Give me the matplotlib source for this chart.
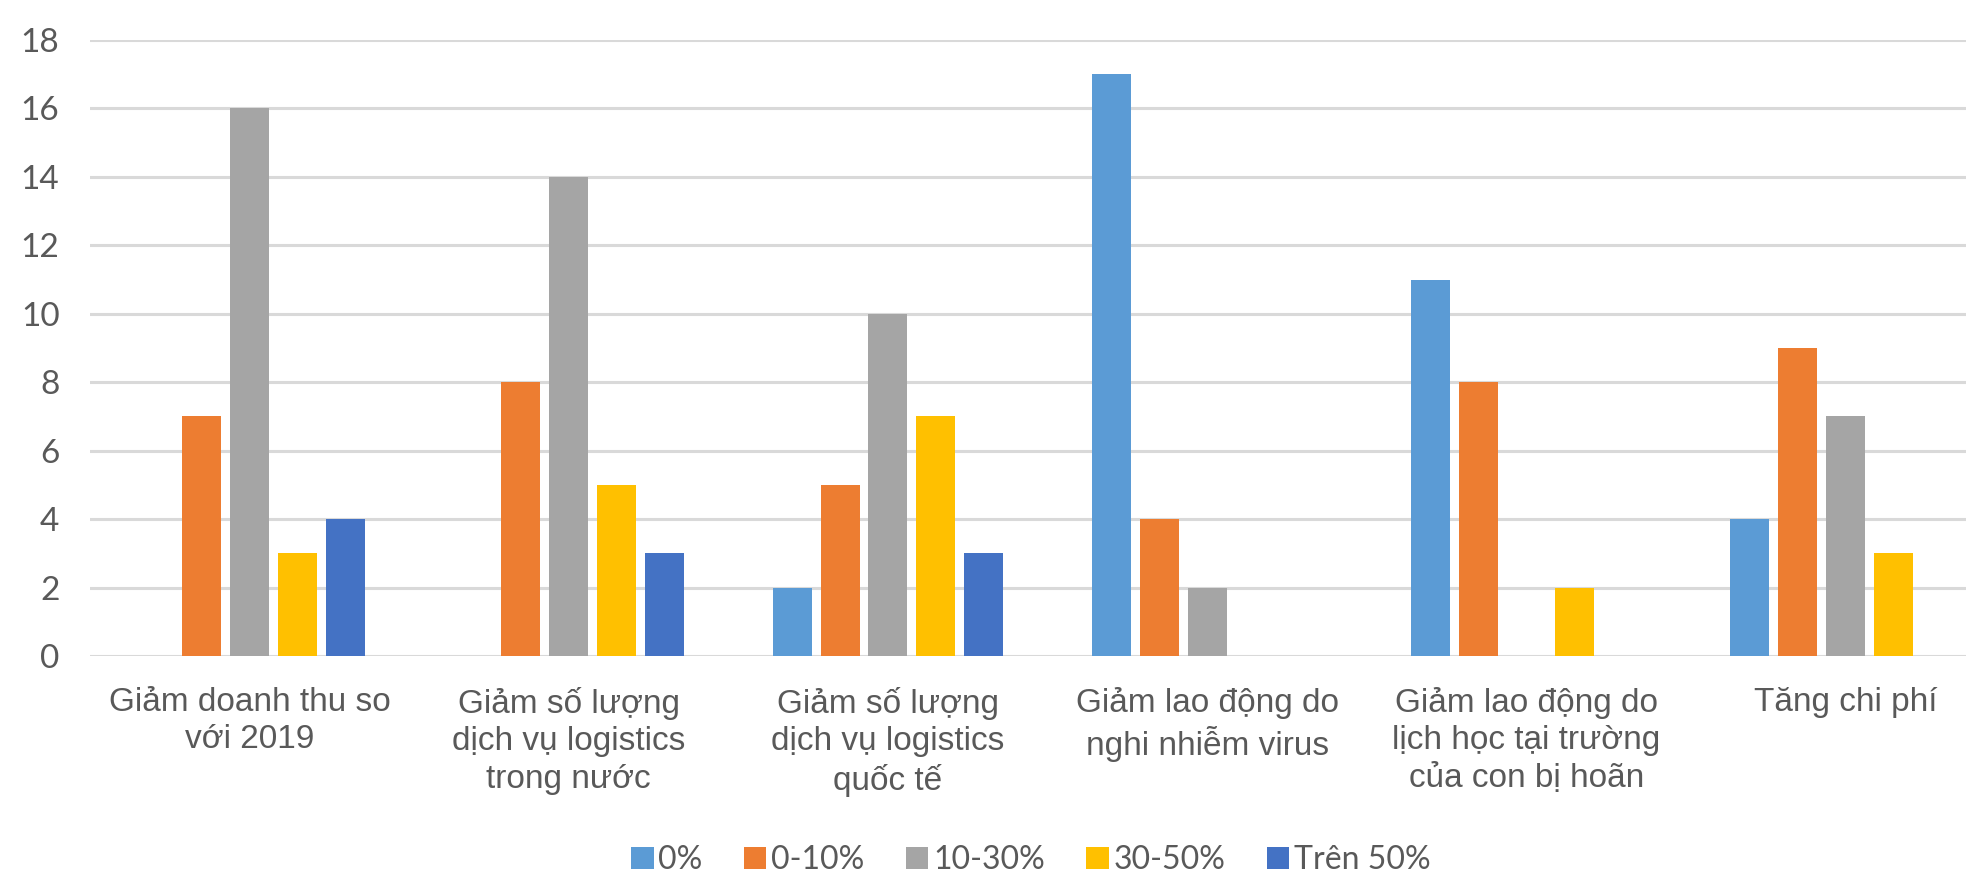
import matplotlib
matplotlib.use("Agg")
import matplotlib.pyplot as plt
import numpy as np

categories = [
    "Giảm doanh thu so\nvới 2019",
    "Giảm số lượng\ndịch vụ logistics\ntrong nước",
    "Giảm số lượng\ndịch vụ logistics\nquốc tế",
    "Giảm lao động do\nnghi nhiễm virus",
    "Giảm lao động do\nlịch học tại trường\ncủa con bị hoãn",
    "Tăng chi phí",
]
series_names = ["0%", "0-10%", "10-30%", "30-50%", "Trên 50%"]
v_0 = [0, 0, 2, 17, 11, 4]
v_0_10 = [7, 8, 5, 4, 8, 9]
v_10_30 = [16, 14, 10, 2, 0, 7]
v_30_50 = [3, 5, 7, 0, 2, 3]
v_50_plus = [4, 3, 3, 0, 0, 0]
y_ticks = [0, 2, 4, 6, 8, 10, 12, 14, 16, 18]

colors = ["#5B9BD5", "#ED7D31", "#A5A5A5", "#FFC000", "#4472C4"]
text_color = "#595959"

fig = plt.figure(figsize=(19.66, 8.73), dpi=100)
ax = fig.add_axes([90 / 1966, (873 - 656) / 873, (2005 - 90) / 1966, (656 - 40) / 873])

x = np.arange(len(categories))
pitch = 0.150
width = 0.122
all_series = [v_0, v_0_10, v_10_30, v_30_50, v_50_plus]
for i, (name, vals) in enumerate(zip(series_names, all_series)):
    ax.bar(x + (i - 2) * pitch, vals, width, color=colors[i], label=name, zorder=3)

ax.set_xlim(-0.5, len(categories) - 0.5)
ax.set_ylim(0, 18)
ax.set_yticks(y_ticks)
ax.set_yticklabels([str(t) for t in y_ticks], fontsize=24, color=text_color,
                   family=["Lato", "DejaVu Sans"])
ax.set_xticks(x)
ax.set_xticklabels(categories, fontsize=24, color=text_color, linespacing=1.27,
                   family=["Liberation Sans", "DejaVu Sans"])
ax.tick_params(axis="y", length=0, pad=22)
ax.tick_params(axis="x", length=0, pad=22)
ax.yaxis.grid(True, color="#D9D9D9", linewidth=2.2, zorder=0)
ax.set_axisbelow(True)
for s in ax.spines.values():
    s.set_visible(False)

leg = fig.legend(loc="center", bbox_to_anchor=(1031 / 1966, 1 - 860 / 873), ncol=5,
                 frameon=False, handlelength=0.7, handleheight=0.7, handletextpad=0.15,
                 columnspacing=1.3, prop={"family": ["Lato", "DejaVu Sans"], "size": 23})
for t in leg.get_texts():
    t.set_color(text_color)

fig.savefig("out.png", dpi=100)
